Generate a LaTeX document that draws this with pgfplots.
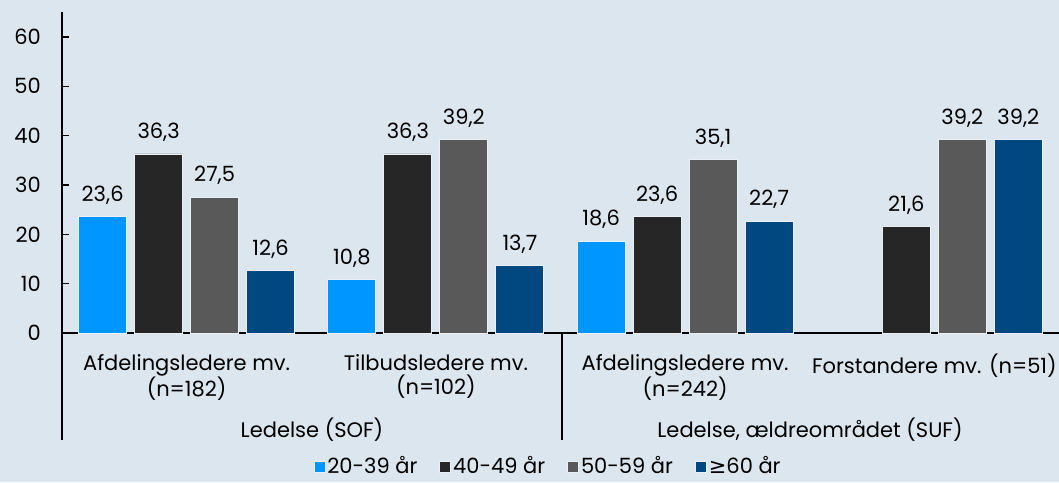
\documentclass[border=0pt]{standalone}
\usepackage{pgfplots}
\pgfplotsset{compat=1.18}
\usepackage{fontspec}
\setmainfont{Poppins}
\newfontfamily\symfont{DejaVu Sans}
\definecolor{bg}{RGB}{220,230,239}
\definecolor{cA}{RGB}{0,150,255}
\definecolor{cB}{RGB}{38,38,38}
\definecolor{cC}{RGB}{89,89,89}
\definecolor{cD}{RGB}{0,72,127}
\begin{document}
\fontsize{21}{24}\selectfont
\begin{tikzpicture}
\path[use as bounding box, fill=bg] (0,0) rectangle (1059pt,482pt);
\begin{axis}[
  at={(62pt,149pt)}, anchor=south west,
  scale only axis, width=997pt, height=320.7pt,
  xmin=-0.5, xmax=3.5, ymin=0, ymax=65,
  axis lines*=left,
  axis line style={black, line width=1.6pt},
  ytick={0,10,...,60},
  tick align=inside, major tick length=7pt,
  y tick style={black, line width=1.6pt},
  xtick={0,1,2,3},
  x tick style={draw=none},
  xticklabels={{Afdelingsledere mv.\\(n=182)},{Tilbudsledere mv.\\(n=102)},{Afdelingsledere mv.\\(n=242)},{Forstandere mv. (n=51)\\\mbox{}}},
  xticklabel style={align=center, text depth=0pt, yshift=-7pt},
  yticklabel style={xshift=-14pt},
  /pgf/number format/assume math mode=true,
  ybar=8pt, bar width=48pt,
  nodes near coords,
  every node near coord/.append style={yshift=5pt, font=\fontsize{21}{24}\selectfont},
  nodes near coords style={/pgf/number format/.cd, fixed, fixed zerofill, precision=1, use comma, assume math mode=true},
  legend columns=4,
  legend style={draw=none, fill=none, at={(0.4875,-0.415)}, anchor=center,
    /tikz/every even column/.append style={column sep=20pt}},
  legend image code/.code={\fill[#1] (0pt,-6pt) rectangle (11pt,5pt);},
  clip=false,
]
\addplot[fill=cA, draw=white!40!bg, line width=0.8pt] coordinates {(0,23.6) (1,10.8) (2,18.6)};
\addplot[fill=cB, draw=white!40!bg, line width=0.8pt] coordinates {(0,36.3) (1,36.3) (2,23.6) (3,21.6)};
\addplot[fill=cC, draw=white!40!bg, line width=0.8pt] coordinates {(0,27.5) (1,39.2) (2,35.1) (3,39.2)};
\addplot[fill=cD, draw=white!40!bg, line width=0.8pt] coordinates {(0,12.6) (1,13.7) (2,22.7) (3,39.2)};
\legend{20-39 år, 40-49 år, 50-59 år, {\symfont≥}60 år}
\end{axis}
\draw[line width=1.6pt] (62pt,149pt) -- (62pt,42pt);
\draw[line width=1.6pt] (562pt,149pt) -- (562pt,42pt);
\node at (312pt,52pt) {Ledelse (SOF)};
\node at (810pt,52pt) {Ledelse, ældreområdet (SUF)};
\end{tikzpicture}
\end{document}
